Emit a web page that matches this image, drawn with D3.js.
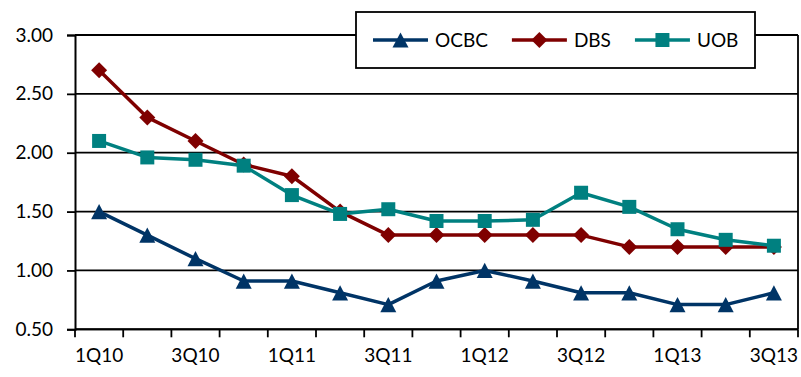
<!DOCTYPE html>
<html lang="en">
<head>
<meta charset="utf-8">
<title>Bank ratios</title>
<style>
  body { margin: 0; background: #fff; }
  svg { display: block; font-family: Lato, "Open Sans", sans-serif; }
</style>
<script src="https://d3js.org/d3.v7.min.js"></script>
</head>
<body>
<div class="chart"></div>
<script>
const quarters = ["1Q10","2Q10","3Q10","4Q10","1Q11","2Q11","3Q11","4Q11",
                  "1Q12","2Q12","3Q12","4Q12","1Q13","2Q13","3Q13"];
const ocbc = [1.50,1.30,1.10,0.91,0.91,0.81,0.71,0.91,1.00,0.91,0.81,0.81,0.71,0.71,0.81];
const dbs  = [2.70,2.30,2.10,1.90,1.80,1.50,1.30,1.30,1.30,1.30,1.30,1.20,1.20,1.20,1.20];
const uob  = [2.10,1.96,1.94,1.89,1.64,1.48,1.52,1.42,1.42,1.43,1.66,1.54,1.35,1.26,1.21];
const yTicks = [0.5,1.0,1.5,2.0,2.5,3.0];

// excel-like marker shapes (size = bounding box width)
const triangle = { draw(ctx, s) { const h = s * 0.95;
  ctx.moveTo(0, -h / 2); ctx.lineTo(s / 2, h / 2); ctx.lineTo(-s / 2, h / 2); ctx.closePath(); } };
const diamond = { draw(ctx, s) {
  ctx.moveTo(0, -s / 2); ctx.lineTo(s / 2, 0); ctx.lineTo(0, s / 2); ctx.lineTo(-s / 2, 0); ctx.closePath(); } };
const square = { draw(ctx, s) { ctx.rect(-s / 2, -s / 2, s, s); } };

const series = [
  { name: "OCBC", values: ocbc, color: "#003466", symbol: triangle, size: 16 },
  { name: "DBS",  values: dbs,  color: "#7f0000", symbol: diamond,  size: 16 },
  { name: "UOB",  values: uob,  color: "#008080", symbol: square,   size: 14 }
];

const W = 801, H = 377;
const plot = { left: 75, right: 798, top: 35, bottom: 329.3 };

const svg = d3.select(".chart").append("svg")
  .attr("width", W).attr("height", H);

const x = d3.scaleBand().domain(quarters).range([plot.left, plot.right]);
const y = d3.scaleLinear().domain([0.5, 3.0]).range([plot.bottom, plot.top]);
const cx = q => x(q) + x.bandwidth() / 2;

// gridlines
svg.append("g")
  .selectAll("line")
  .data(yTicks)
  .join("line")
  .attr("x1", plot.left).attr("x2", plot.right)
  .attr("y1", d => y(d)).attr("y2", d => y(d))
  .attr("stroke", "#000").attr("stroke-width", 1.8);

// right border
svg.append("line")
  .attr("x1", plot.right).attr("x2", plot.right)
  .attr("y1", plot.top).attr("y2", plot.bottom)
  .attr("stroke", "#000").attr("stroke-width", 1.8);

// y axis
const yAxis = svg.append("g")
  .attr("transform", `translate(${plot.left},0)`)
  .call(d3.axisLeft(y).tickValues(yTicks).tickFormat(d3.format(".2f")).tickSize(8).tickPadding(14));
yAxis.select(".domain").attr("stroke-width", 2);
yAxis.selectAll(".tick line").attr("stroke-width", 1.8);
yAxis.selectAll("text").attr("font-size", 19).attr("fill", "#000").attr("font-family", "Lato");

// x axis: ticks at category boundaries
const bounds = quarters.map(q => x(q)).concat([plot.right]);
svg.append("line")
  .attr("x1", plot.left).attr("x2", plot.right)
  .attr("y1", plot.bottom).attr("y2", plot.bottom)
  .attr("stroke", "#000").attr("stroke-width", 2);
svg.append("g")
  .selectAll("line")
  .data(bounds)
  .join("line")
  .attr("x1", d => d).attr("x2", d => d)
  .attr("y1", plot.bottom).attr("y2", plot.bottom + 8)
  .attr("stroke", "#000").attr("stroke-width", 1.8);
svg.append("g")
  .selectAll("text")
  .data(quarters.filter((q, i) => i % 2 === 0))
  .join("text")
  .attr("x", d => cx(d))
  .attr("y", 362)
  .attr("text-anchor", "middle")
  .attr("font-size", 19)
  .text(d => d);

// lines and markers
const line = d3.line()
  .x((d, i) => cx(quarters[i]))
  .y(d => y(d));

series.forEach(s => {
  svg.append("path")
    .datum(s.values)
    .attr("d", line)
    .attr("fill", "none")
    .attr("stroke", s.color)
    .attr("stroke-width", 3.5)
    .attr("stroke-linejoin", "round");
  svg.append("g")
    .selectAll("path")
    .data(s.values)
    .join("path")
    .attr("transform", (d, i) => `translate(${cx(quarters[i])},${y(d)})`)
    .attr("d", d3.symbol().type(s.symbol).size(s.size))
    .attr("fill", s.color);
});

// legend
const legend = svg.append("g");
legend.append("rect")
  .attr("x", 356).attr("y", 12).attr("width", 399).attr("height", 56)
  .attr("fill", "#fff").attr("stroke", "#000").attr("stroke-width", 1.8);

let lx = 373;
series.forEach(s => {
  const g = legend.append("g");
  g.append("line")
    .attr("x1", lx).attr("x2", lx + 55)
    .attr("y1", 40).attr("y2", 40)
    .attr("stroke", s.color).attr("stroke-width", 3.5);
  g.append("path")
    .attr("transform", `translate(${lx + 27.5},40)`)
    .attr("d", d3.symbol().type(s.symbol).size(s.size))
    .attr("fill", s.color);
  const t = g.append("text")
    .attr("x", lx + 62).attr("y", 47)
    .attr("font-size", 19)
    .text(s.name);
  lx += 62 + t.node().getComputedTextLength() + 24;
});
</script>
</body>
</html>
